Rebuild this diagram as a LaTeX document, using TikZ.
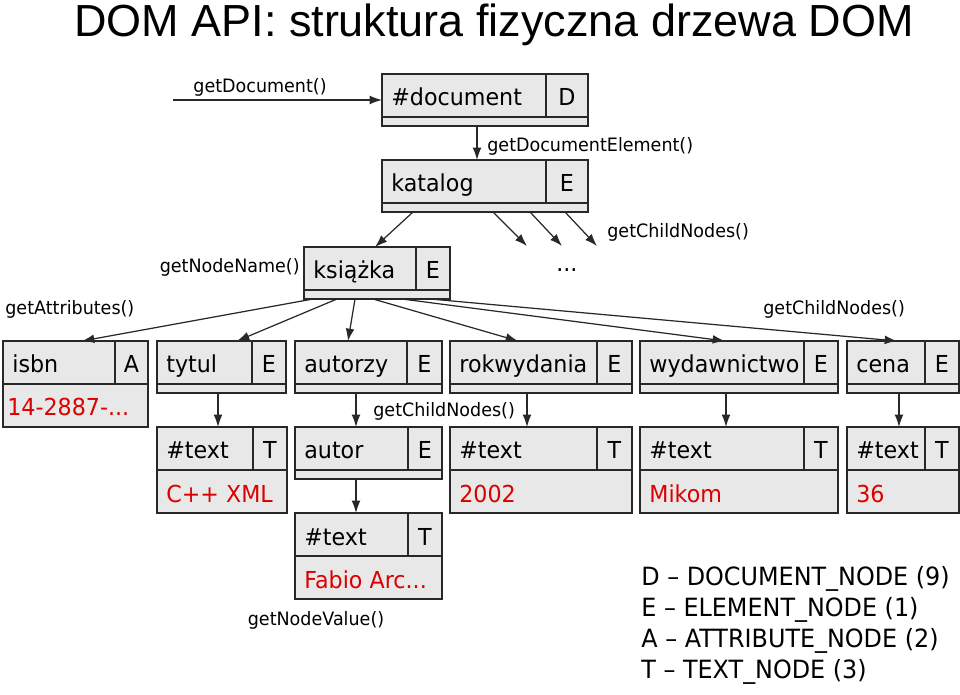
\documentclass[tikz,border=0pt]{standalone}
\usepackage{fontspec}
\setmainfont{DejaVu Sans}[FakeStretch=0.95]
\newfontfamily\titlefont{Liberation Sans}
\usetikzlibrary{arrows.meta,calc}
\definecolor{boxgray}{RGB}{232,232,232}
\definecolor{edge}{RGB}{40,40,40}
\definecolor{valred}{RGB}{220,0,0}

% box: name, x1, x2, divider, top, lower part, text, type, value
\newcommand{\domnode}[9]{%
  \node[dombox,minimum width={(#3-#2)*0.02cm},minimum height={(43+#6)*0.02cm}] (#1) at (#2,#5) {};
  \draw[boxedge] (#2,#5+43) -- (#3,#5+43) (#4,#5) -- (#4,#5+43);
  \node[nametext] (#1-n) at (#2+9,#5+32) {#7};
  \node[typetext] (#1-t) at ({(#3+#4)/2},#5+32) {#8};
  \node[valtext] (#1-v) at (#2+9,#5+75) {#9};
}

\begin{document}
\begin{tikzpicture}[x=0.02cm,y=-0.02cm,
    dombox/.style={draw=edge,fill=boxgray,line width=0.8pt,inner sep=0pt,outer sep=0pt,anchor=north west},
    boxedge/.style={draw=edge,line width=0.8pt},
    nametext/.style={anchor=base west,inner sep=0pt,font=\fontsize{13.3}{16}\selectfont},
    typetext/.style={anchor=base,inner sep=0pt,font=\fontsize{13.3}{16}\selectfont},
    valtext/.style={anchor=base west,inner sep=0pt,text=valred,font=\fontsize{13.3}{16}\selectfont},
    call/.style={anchor=base west,inner sep=0pt,font=\fontsize{10.5}{12}\selectfont},
    legend/.style={anchor=base west,inner sep=0pt,font=\fontsize{14.3}{17}\selectfont},
    arr/.style={-{Latex[length=7pt,width=5pt]},line width=0.7pt,draw=edge}]
  \useasboundingbox (0,0) rectangle (960,695);
  \node[anchor=base,inner sep=0pt,font=\titlefont\fontsize{25.6}{30}\selectfont] (title) at (494,37) {DOM API: struktura fizyczna drzewa DOM};

  \domnode{doc}{382}{588}{546}{74}{9}{\#document}{D}{}
  \domnode{katalog}{382}{588}{546}{160}{9}{katalog}{E}{}
  \domnode{ksiazka}{304}{450}{416}{247}{9}{książka}{E}{}

  \domnode{isbn}{3}{148}{115}{341}{43}{isbn}{A}{}
  \node[valtext] (isbnval) at (7,416) {14-2887-...};
  \domnode{tytul}{157}{286}{252}{341}{9}{tytul}{E}{}
  \domnode{autorzy}{295}{442}{407}{341}{9}{autorzy}{E}{}
  \domnode{rok}{450}{632}{597}{341}{9}{rokwydania}{E}{}
  \domnode{wyd}{640}{838}{804}{341}{9}{wydawnictwo}{E}{}
  \domnode{cena}{847}{959}{925}{341}{9}{cena}{E}{}

  \domnode{txtytul}{157}{287}{253}{427}{43}{\#text}{T}{C++ XML}
  \domnode{autor}{295}{442}{408}{427}{9}{autor}{E}{}
  \domnode{txrok}{450}{632}{597}{427}{43}{\#text}{T}{2002}
  \domnode{txwyd}{640}{838}{804}{427}{43}{\#text}{T}{Mikom}
  \domnode{txcena}{847}{959}{925}{427}{43}{\#text}{T}{36}
  \domnode{txautor}{295}{442}{408}{513}{43}{\#text}{T}{Fabio Arc...}

  \coordinate (start) at (173,100);
  \draw[arr] (start) -- (doc.west);
  \draw[arr] ($(doc.south west)+(95,0)$) -- ($(katalog.north west)+(95,0)$);
  \draw[arr] ($(katalog.south west)+(31,0)$) -- ($(ksiazka.north west)+(71,0)$);
  \coordinate (more1) at (527,246);
  \coordinate (more2) at (562,246);
  \coordinate (more3) at (597,246);
  \draw[arr] ($(katalog.south west)+(111,0)$) -- (more1);
  \draw[arr] ($(katalog.south west)+(148,0)$) -- (more2);
  \draw[arr] ($(katalog.south west)+(183,0)$) -- (more3);

  \draw[arr] ($(ksiazka.south west)+(9,0)$) -- ($(isbn.north west)+(79,0)$);
  \draw[arr] ($(ksiazka.south west)+(33,0)$) -- ($(tytul.north west)+(80,0)$);
  \draw[arr] ($(ksiazka.south west)+(51,0)$) -- ($(autorzy.north west)+(53,0)$);
  \draw[arr] ($(ksiazka.south west)+(69,0)$) -- ($(rok.north west)+(68,0)$);
  \draw[arr] ($(ksiazka.south west)+(98,0)$) -- ($(wyd.north west)+(85,0)$);
  \draw[arr] ($(ksiazka.south west)+(126,0)$) -- ($(cena.north west)+(50,0)$);

  \draw[arr] ($(tytul.south west)+(61,0)$) -- ($(txtytul.north west)+(61,0)$);
  \draw[arr] ($(autorzy.south west)+(61,0)$) -- ($(autor.north west)+(61,0)$);
  \draw[arr] ($(rok.south west)+(77,0)$) -- ($(txrok.north west)+(77,0)$);
  \draw[arr] ($(wyd.south west)+(86,0)$) -- ($(txwyd.north west)+(86,0)$);
  \draw[arr] ($(cena.south west)+(52,0)$) -- ($(txcena.north west)+(52,0)$);
  \draw[arr] ($(autor.south west)+(61,0)$) -- ($(txautor.north west)+(61,0)$);

  \node[call,anchor=base] (l1) at (260,93) {getDocument()};
  \node[call] (l2) at (487,152) {getDocumentElement()};
  \node[call] (l3) at (607,238) {getChildNodes()};
  \node[call,anchor=base east] (l4) at (300,273) {getNodeName()};
  \node[call] (l5) at (5,315) {getAttributes()};
  \node[call] (l6) at (763,315) {getChildNodes()};
  \node[call] (l7) at (373,417) {getChildNodes()};
  \node[call,anchor=base] (l8) at (316,625) {getNodeValue()};
  \node[legend,font=\fontsize{13.3}{16}\selectfont] (dots) at (556,272) {...};

  \node[legend] (k1) at (641,585) {D – DOCUMENT\_NODE (9)};
  \node[legend] (k2) at (641,616) {E – ELEMENT\_NODE (1)};
  \node[legend] (k3) at (641,647) {A – ATTRIBUTE\_NODE (2)};
  \node[legend] (k4) at (641,678) {T – TEXT\_NODE (3)};
\end{tikzpicture}
\end{document}
